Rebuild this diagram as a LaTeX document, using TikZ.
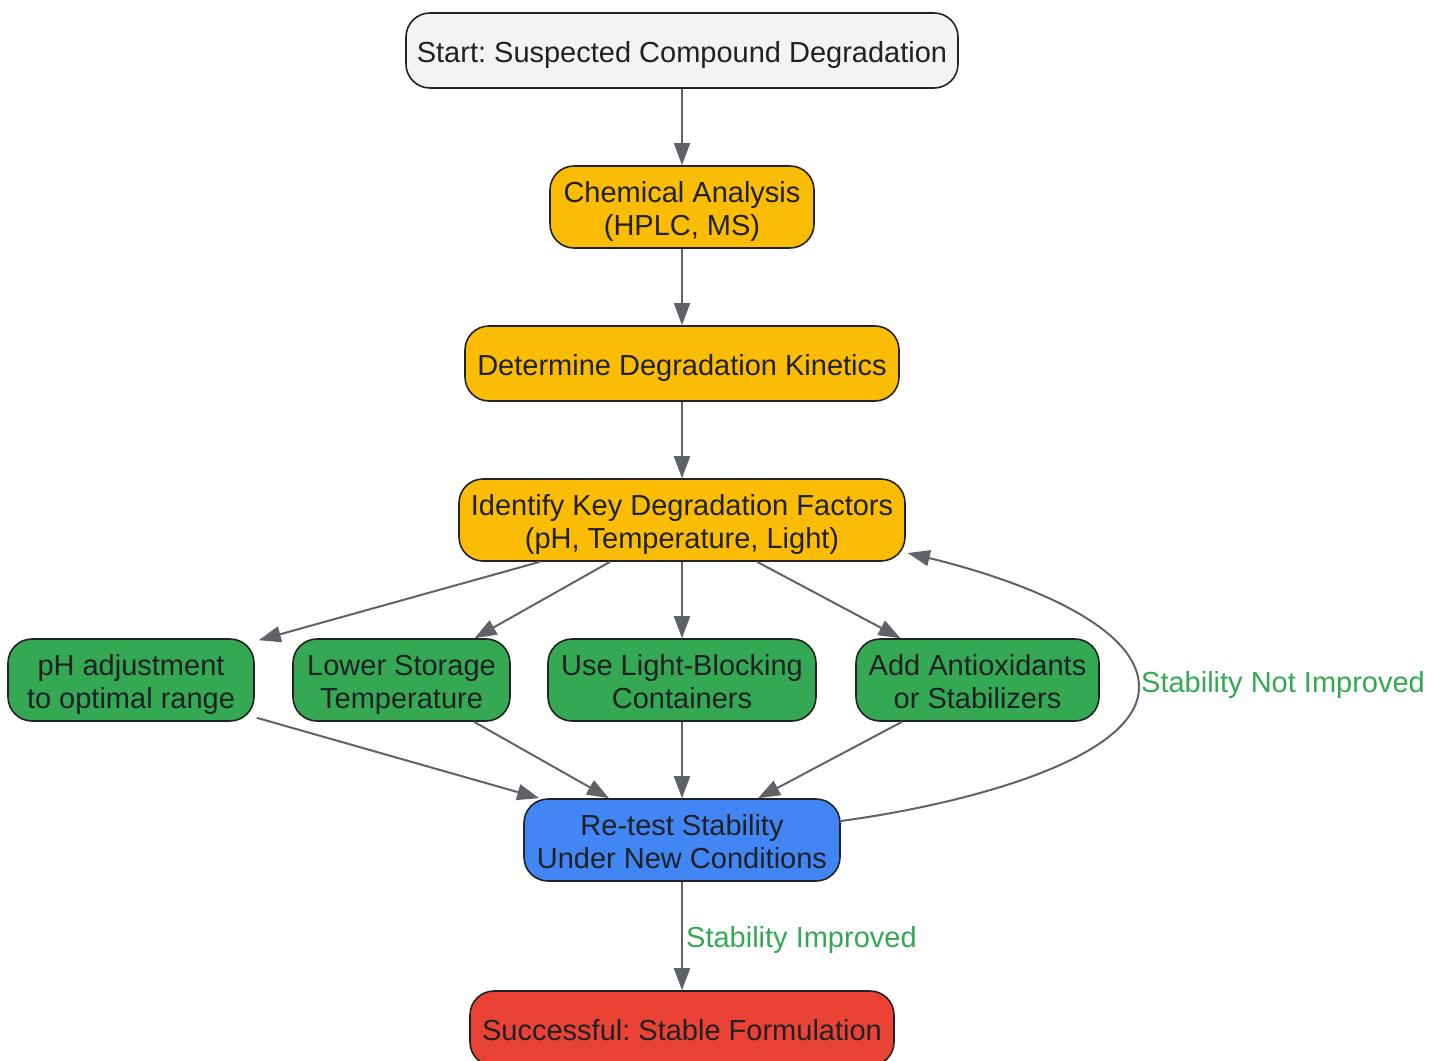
\documentclass[tikz,border=0pt]{standalone}
\usepackage{fontspec}
\setmainfont{Liberation Sans}
\frenchspacing
\usetikzlibrary{arrows.meta,calc}
\definecolor{startfill}{HTML}{F1F3F4}
\definecolor{yel}{HTML}{FBBC04}
\definecolor{grn}{HTML}{34A853}
\definecolor{blu}{HTML}{4285F4}
\definecolor{redd}{HTML}{EA4335}
\definecolor{boxline}{HTML}{222222}
\definecolor{txt}{HTML}{202124}
\definecolor{edgec}{HTML}{5F6368}
\definecolor{lblgreen}{HTML}{34A853}
\begin{document}
\begin{tikzpicture}[x=1pt,y=-1pt,
  box/.style={draw=boxline, line width=1.6pt, rounded corners=24pt, inner sep=0pt},
  boxtext/.style={align=center, inner sep=0pt, text=txt, yshift=-5.4pt,
    font=\fontsize{29}{33}\selectfont},
  arr/.style={draw=edgec, line width=2pt, -{Triangle[length=22pt,width=16pt]}},
  lbl/.style={text=lblgreen, font=\fontsize{29}{33}\selectfont, anchor=west, inner sep=0pt}]
\useasboundingbox (0,0) rectangle (1445,1060);

\node[box, fill=startfill, minimum width=552pt, minimum height=75pt,
  label={[boxtext]center:{\strut Start: Suspected Compound Degradation}}] (st) at (682,50.5) {};
\node[box, fill=yel, minimum width=264pt, minimum height=82pt,
  label={[boxtext]center:{\strut Chemical Analysis\\\strut (HPLC, MS)}}] (ca) at (682,207) {};
\node[box, fill=yel, minimum width=434pt, minimum height=75pt,
  label={[boxtext]center:{\strut Determine Degradation Kinetics}}] (dk) at (682,363.5) {};
\node[box, fill=yel, minimum width=446pt, minimum height=82pt,
  label={[boxtext]center:{\strut Identify Key Degradation Factors\\\strut (pH, Temperature, Light)}}] (id) at (682,520) {};

\node[box, fill=grn, minimum width=246pt, minimum height=82pt,
  label={[boxtext]center:{\strut pH adjustment\\\strut to optimal range}}] (ph) at (131,680) {};
\node[box, fill=grn, minimum width=217pt, minimum height=82pt,
  label={[boxtext]center:{\strut Lower Storage\\\strut Temperature}}] (ls) at (401.5,680) {};
\node[box, fill=grn, minimum width=268pt, minimum height=82pt,
  label={[boxtext]center:{\strut Use Light-Blocking\\\strut Containers}}] (lb) at (682,680) {};
\node[box, fill=grn, minimum width=243pt, minimum height=82pt,
  label={[boxtext]center:{\strut Add Antioxidants\\\strut or Stabilizers}}] (ad) at (977.5,680) {};

\node[box, fill=blu, minimum width=316pt, minimum height=82pt,
  label={[boxtext]center:{\strut Re-test Stability\\\strut Under New Conditions}}] (rt) at (682,840) {};
\node[box, fill=redd, minimum width=424pt, minimum height=75pt,
  label={[boxtext]center:{\strut Successful: Stable Formulation}}] (sf) at (682,1028.5) {};

\draw[arr] (st) -- (ca);
\draw[arr] (ca) -- (dk);
\draw[arr] (dk) -- (id);

\draw[arr] ([xshift=-142pt]id.south) -- ([xshift=4pt,yshift=-2pt]ph.north east);
\draw[arr] ([xshift=-72pt]id.south) -- ([xshift=73pt]ls.north);
\draw[arr] (id) -- (lb);
\draw[arr] ([xshift=75pt]id.south) -- ([xshift=-77pt]ad.north);

\draw[arr] ([xshift=2pt,yshift=4pt]ph.south east) -- ([xshift=16pt]rt.north west);
\draw[arr] ([xshift=72.5pt]ls.south) -- ([xshift=-73pt]rt.north);
\draw[arr] (lb) -- (rt);
\draw[arr] ([xshift=-75.5pt]ad.south) -- ([xshift=76pt]rt.north);

\coordinate (loopr) at (1139,687);
\draw[arr] ([yshift=19pt]rt.east) .. controls (960,805) and (1139,760) .. (loopr)
  .. controls (1139,620) and (1000,575) .. ([xshift=2pt,yshift=4pt]id.east |- 0,557);
\node[lbl] (lnot) at (1141,685) {Stability Not Improved};

\draw[arr] (rt) -- (sf);
\node[lbl] (limp) at (686,940) {Stability Improved};
\end{tikzpicture}
\end{document}
